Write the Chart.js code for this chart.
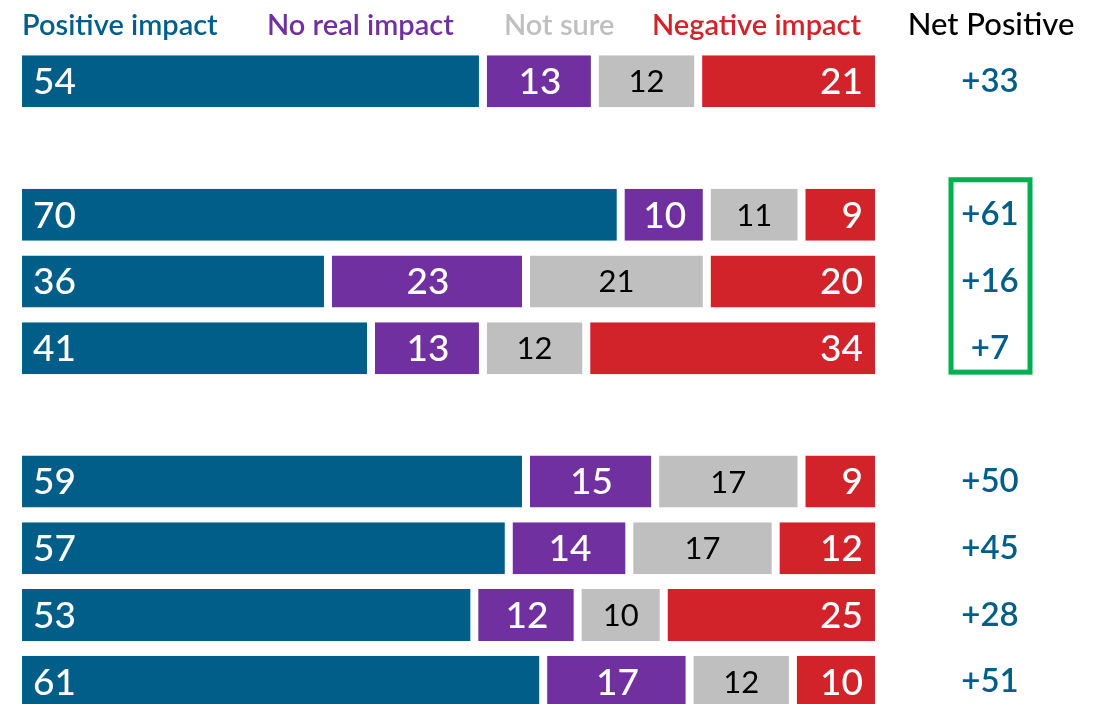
<!DOCTYPE html>
<html>
<head>
<meta charset="utf-8">
<script src="https://cdn.jsdelivr.net/npm/chart.js@4/dist/chart.umd.min.js"></script>
<style>
  html, body { margin: 0; padding: 0; background: #fff; overflow: hidden; }
  #wrap { width: 1102px; height: 704px; overflow: hidden; position: relative; }
  canvas { display: block; }
</style>
</head>
<body>
<div id="wrap"><canvas id="c" width="1102" height="748"></canvas></div>
<script>
// ---- data ----
const categories = ['Row A', '', 'Row B', 'Row C', 'Row D', '', 'Row E', 'Row F', 'Row G', 'Row H'];
const positiveImpact = [54, null, 70, 36, 41, null, 59, 57, 53, 61];
const noRealImpact   = [13, null, 10, 23, 13, null, 15, 14, 12, 17];
const notSure        = [12, null, 11, 21, 12, null, 17, 17, 10, 12];
const negativeImpact = [21, null, 9, 20, 34, null, 9, 12, 25, 10];
const seriesNames = ['Positive impact', 'No real impact', 'Not sure', 'Negative impact'];
const netHeader = 'Net Positive';
const highlightedRows = [2, 4]; // first and last row index inside the green box

const colors = ['#005E89', '#7030A0', '#BFBFBF', '#D2232A'];
const FONT = 'Lato, "Noto Sans", sans-serif';

const labelPlugin = {
  id: 'labels',
  afterDatasetsDraw(chart) {
    const ctx = chart.ctx;
    ctx.save();
    ctx.textBaseline = 'middle';
    chart.data.datasets.forEach((ds, di) => {
      const meta = chart.getDatasetMeta(di);
      meta.data.forEach((bar, i) => {
        const v = ds.data[i];
        if (v == null) return;
        const left = Math.min(bar.x, bar.base), right = Math.max(bar.x, bar.base);
        if (di === 0) {
          ctx.font = '500 37px ' + FONT; ctx.fillStyle = '#fff'; ctx.textAlign = 'left';
          ctx.fillText(String(v), left + 15, bar.y + 1);
        } else if (di === 1) {
          ctx.font = '500 37px ' + FONT; ctx.fillStyle = '#fff'; ctx.textAlign = 'center';
          ctx.fillText(String(v), (left + right) / 2 + 1, bar.y + 1);
        } else if (di === 2) {
          ctx.font = '400 31px ' + FONT; ctx.fillStyle = '#000'; ctx.textAlign = 'center';
          ctx.fillText(String(v), (left + right) / 2, bar.y + 1);
        } else {
          ctx.font = '500 37px ' + FONT; ctx.fillStyle = '#fff'; ctx.textAlign = 'right';
          ctx.fillText(String(v), right - 16, bar.y + 1);
        }
      });
    });
    // Net positive column
    const meta0 = chart.getDatasetMeta(0);
    ctx.font = '600 33px ' + FONT; ctx.fillStyle = '#005E89'; ctx.textAlign = 'center';
    meta0.data.forEach((bar, i) => {
      if (positiveImpact[i] == null) return;
      const net = positiveImpact[i] - negativeImpact[i];
      ctx.fillText((net > 0 ? '+' : '') + net, 990, bar.y);
    });
    // header
    ctx.textBaseline = 'alphabetic';
    ctx.font = '600 29px ' + FONT;
    ctx.textAlign = 'left';
    const hx = [22, 267, 504, 652];
    seriesNames.forEach((n, k) => {
      ctx.fillStyle = colors[k];
      ctx.fillText(n, hx[k], 35);
    });
    ctx.fillStyle = '#000';
    ctx.textAlign = 'center';
    ctx.font = '500 31px ' + FONT;
    ctx.fillText(netHeader, 991, 35);
    // green box
    const y1 = meta0.data[highlightedRows[0]].y - 35;
    const y2 = meta0.data[highlightedRows[1]].y + 24;
    ctx.strokeStyle = '#00B050';
    ctx.lineWidth = 5;
    ctx.strokeRect(951, y1, 79, y2 - y1);
    ctx.restore();
  }
};

const datasets = [positiveImpact, noRealImpact, notSure, negativeImpact].map((d, k) => ({
  label: seriesNames[k],
  data: d,
  backgroundColor: colors[k],
  borderColor: '#ffffff',
  borderWidth: { left: 4, right: 4, top: 0, bottom: 0 },
  borderSkipped: false,
  categoryPercentage: 1,
  barPercentage: 0.78
}));

new Chart(document.getElementById('c'), {
  type: 'bar',
  data: { labels: categories, datasets },
  options: {
    indexAxis: 'y',
    responsive: false,
    animation: false,
    layout: { padding: { left: 18, right: 223, top: 48, bottom: 33 } },
    plugins: { legend: { display: false }, tooltip: { enabled: false } },
    scales: {
      x: { stacked: true, min: 0, max: 100, display: false },
      y: { stacked: true, display: false }
    }
  },
  plugins: [labelPlugin]
});
</script>
</body>
</html>
